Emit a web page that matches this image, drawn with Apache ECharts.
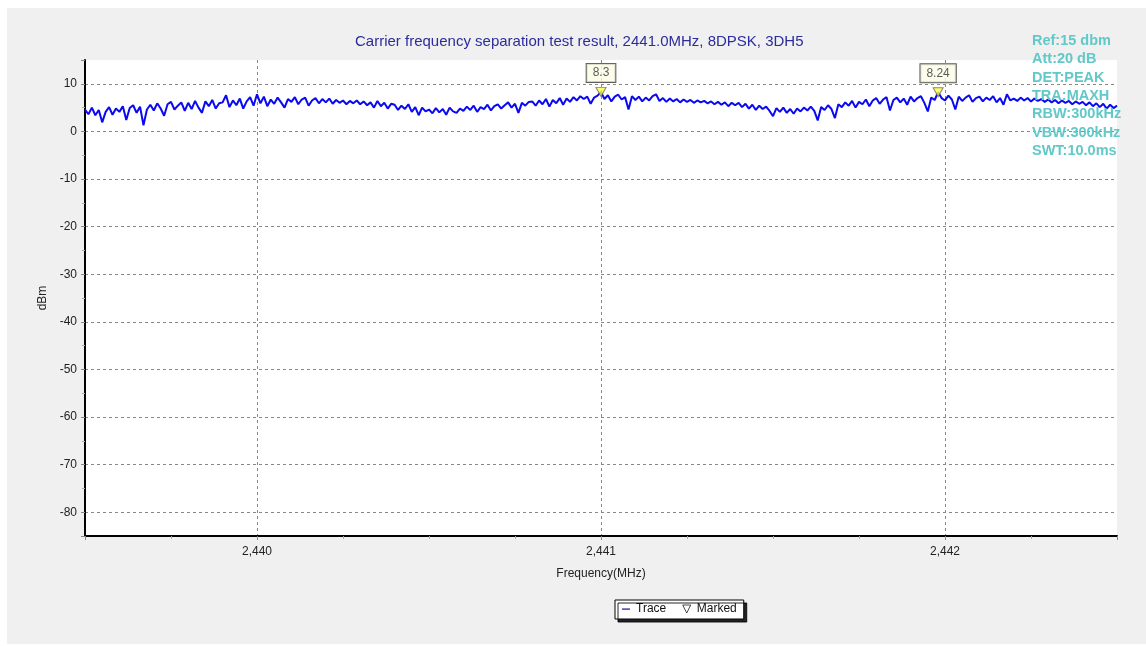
<!DOCTYPE html>
<html>
<head>
<meta charset="utf-8">
<script src="https://cdn.jsdelivr.net/npm/echarts@6/dist/echarts.min.js"></script>
<style>
html,body{margin:0;padding:0;background:#fff;}
#chart{width:1146px;height:646px;}
</style>
</head>
<body>
<div id="chart"></div>
<script>
// Sweep: 2439.50 .. 2442.50 MHz, 301 points
const sweepStart = 2439.5;
const sweepStep = 0.01;

// Trace levels (dBm)
const traceLevels = [
  4.6, 3.6, 5.0, 3.4, 4.5, 1.9, 4.1, 5.1, 3.5, 4.8,
  4.1, 5.3, 2.4, 4.9, 5.5, 3.9, 5.2, 1.3, 4.6, 5.6,
  4.4, 5.9, 4.8, 3.3, 5.7, 6.2, 4.6, 5.4, 6.1, 4.3,
  6.0, 4.7, 6.4, 5.0, 3.9, 6.3, 5.3, 6.6, 4.8, 5.9,
  6.1, 7.6, 5.1, 6.5, 5.5, 6.9, 4.8, 6.3, 7.2, 5.4,
  7.8, 5.9, 7.3, 5.3, 6.7, 5.8, 7.1, 6.1, 5.0, 6.8,
  6.2, 7.2, 5.7, 6.7, 7.1, 5.4, 6.5, 7.0, 5.9, 6.8,
  6.1, 6.9, 5.8, 6.6, 6.0, 6.5, 5.7, 6.4, 5.9, 6.5,
  5.7, 6.3, 5.5, 6.1, 5.0, 6.4, 5.3, 6.0, 4.8, 5.8,
  5.6, 4.5, 5.4, 4.7, 5.7, 4.1, 5.1, 3.4, 5.0, 4.2,
  4.6, 3.8, 4.9, 4.0, 4.7, 3.5, 5.0, 4.2, 3.9, 4.8,
  4.3, 5.2, 4.5, 5.4, 4.1, 5.1, 4.7, 5.6, 4.4, 5.3,
  5.7, 4.8, 5.5, 6.1, 5.0, 5.8, 3.9, 6.0, 5.4, 6.2,
  6.3, 5.4, 6.5, 5.7, 6.8, 5.2, 6.6, 5.9, 7.0, 5.6,
  6.9, 6.2, 7.2, 6.5, 7.4, 6.8, 7.3, 5.8, 7.1, 7.5,
  8.3, 6.8, 7.6, 6.3, 7.3, 7.7, 6.7, 7.2, 4.6, 7.4,
  6.6, 7.3, 6.3, 7.1, 6.5, 7.4, 7.8, 6.4, 7.0, 6.2,
  6.9, 6.3, 6.8, 6.1, 6.7, 6.2, 6.6, 6.0, 6.5, 6.1,
  6.4, 5.9, 6.3, 5.7, 6.2, 5.6, 6.1, 5.3, 6.0, 5.5,
  6.0, 5.1, 5.8, 4.8, 5.6, 4.5, 5.4, 4.7, 5.2, 4.3,
  3.2, 4.9, 4.1, 5.0, 3.9, 4.7, 3.7, 4.8, 4.2, 5.0,
  4.4, 5.2, 4.3, 2.3, 5.1, 4.5, 5.5, 4.7, 2.8, 5.7,
  5.1, 6.1, 5.4, 6.4, 5.0, 6.2, 5.7, 6.7, 5.3, 6.5,
  7.0, 5.8, 6.7, 7.2, 4.4, 6.6, 7.1, 6.1, 6.9, 5.6,
  7.3, 6.3, 7.0, 7.4, 6.0, 4.2, 7.1, 6.6, 8.24, 7.0,
  6.5, 7.5, 6.7, 4.6, 7.3, 6.4, 7.1, 7.6, 6.2, 7.0,
  7.3, 6.3, 7.1, 6.6, 7.4, 6.1, 7.0, 5.6, 7.8, 6.5,
  6.9, 6.4, 7.1, 6.5, 7.0, 6.3, 6.9, 6.4, 6.8, 6.2,
  6.7, 6.1, 6.6, 5.9, 6.5, 6.0, 6.4, 5.7, 6.3, 5.8,
  6.2, 5.5, 6.1, 5.3, 5.9, 5.1, 5.8, 4.8, 5.6, 4.9, 5.4
];

// Markers
const markerFreqs = [2441.00, 2441.98];
const markerLevels = [8.3, 8.24];

// Instrument settings text
const settingsLines = ['Ref:15 dbm', 'Att:20 dB', 'DET:PEAK', 'TRA:MAXH', 'RBW:300kHz', 'VBW:300kHz', 'SWT:10.0ms'];

const titleText = 'Carrier frequency separation test result, 2441.0MHz, 8DPSK, 3DH5';

const traceData = traceLevels.map((v, i) => [Number((sweepStart + i * sweepStep).toFixed(2)), v]);
const markerData = markerFreqs.map((f, i) => [f, markerLevels[i]]);

const FONT = '"Liberation Sans", Arial, sans-serif';
const chart = echarts.init(document.getElementById('chart'), null, {renderer: 'canvas'});

chart.setOption({
  animation: false,
  backgroundColor: '#ffffff',
  textStyle: {fontFamily: FONT},
  graphic: [{
    type: 'rect', z: -10, silent: true,
    shape: {x: 7, y: 8, width: 1139, height: 636},
    style: {fill: '#f0f0f0'}
  }],
  title: [{
    text: titleText,
    left: 355,
    top: 34,
    padding: 0,
    textStyle: {fontSize: 15, fontWeight: 'normal', color: '#2c2c9c', fontFamily: FONT}
  }, {
    text: settingsLines.join('\n'),
    left: 1032,
    top: 32,
    padding: 0,
    textStyle: {fontSize: 14.5, fontWeight: 'bold', color: '#62c8c8', lineHeight: 18.3, fontFamily: FONT}
  }],
  grid: {
    left: 85, right: 29, top: 60, bottom: 110,
    show: true, backgroundColor: '#ffffff', borderWidth: 0
  },
  legend: {
    left: 615, top: 600,
    padding: [3, 7, 4, 7],
    itemWidth: 10, itemHeight: 8, itemGap: 16,
    backgroundColor: '#ffffff',
    borderColor: '#000000', borderWidth: 1, borderRadius: 0,
    shadowColor: 'rgba(0,0,0,0.85)', shadowBlur: 0, shadowOffsetX: 3, shadowOffsetY: 3,
    textStyle: {fontSize: 12, color: '#111', fontFamily: FONT},
    data: [
      {name: 'Trace', icon: 'path://M0,0 L0,0 M0,44 L100,44 L100,58 L0,58 Z M0,100 L0,100', itemStyle: {color: '#000080'}},
      {name: 'Marked', icon: 'path://M0,0 L100,0 L50,100 Z', itemStyle: {color: '#ffffff', borderColor: '#222', borderWidth: 1}}
    ]
  },
  xAxis: {
    type: 'value',
    min: 2439.5, max: 2442.5,
    minInterval: 1, maxInterval: 1,
    name: 'Frequency(MHz)',
    nameLocation: 'middle', nameGap: 32,
    nameTextStyle: {fontSize: 12, color: '#222', fontFamily: FONT},
    axisLine: {show: true, onZero: false, lineStyle: {color: '#000', width: 2}},
    axisTick: {show: true, length: 5, lineStyle: {color: '#888', type: 'dashed'}},
    minorTick: {show: true, splitNumber: 4, length: 3, lineStyle: {color: '#aaa'}},
    axisLabel: {
      show: true, margin: 10, fontSize: 12, color: '#222', fontFamily: FONT,
      showMinLabel: false, showMaxLabel: false,
      formatter: v => String(v).replace(/\B(?=(\d{3})+(?!\d))/g, ',')
    },
    splitLine: {show: true, showMinLine: false, showMaxLine: false, lineStyle: {color: '#888', type: [3, 3], width: 1}}
  },
  yAxis: {
    type: 'value',
    min: -85, max: 15,
    minInterval: 10, maxInterval: 10,
    name: 'dBm',
    nameLocation: 'middle', nameGap: 32,
    nameTextStyle: {fontSize: 12, color: '#222', fontFamily: FONT},
    axisLine: {show: true, lineStyle: {color: '#000', width: 2}},
    axisTick: {show: true, length: 5, lineStyle: {color: '#888', type: 'dashed'}},
    minorTick: {show: true, splitNumber: 2, length: 3, lineStyle: {color: '#aaa'}},
    axisLabel: {show: true, margin: 8, fontSize: 12, color: '#222', fontFamily: FONT, showMinLabel: false, showMaxLabel: false},
    splitLine: {show: true, showMinLine: false, showMaxLine: false, lineStyle: {color: '#888', type: [3, 3], width: 1}}
  },
  series: [{
    name: 'Trace',
    type: 'line',
    data: traceData,
    showSymbol: false,
    symbol: 'none',
    sampling: false,
    lineStyle: {color: '#0a0af0', width: 2},
    itemStyle: {color: '#0a0af0'},
    z: 2
  }, {
    name: 'Marked',
    type: 'scatter',
    data: markerData,
    symbol: 'path://M0,0 L100,0 L50,90 Z',
    symbolSize: [10, 9],
    itemStyle: {color: '#ffff40', borderColor: '#666', borderWidth: 1},
    label: {
      show: true, position: 'top', distance: 5,
      formatter: p => String(p.value[1]),
      fontSize: 12, color: '#333', fontFamily: FONT,
      backgroundColor: '#fdfde6', borderColor: '#333', borderWidth: 1,
      padding: [3, 6, 3, 6]
    },
    z: 5
  }]
});
</script>
</body>
</html>
